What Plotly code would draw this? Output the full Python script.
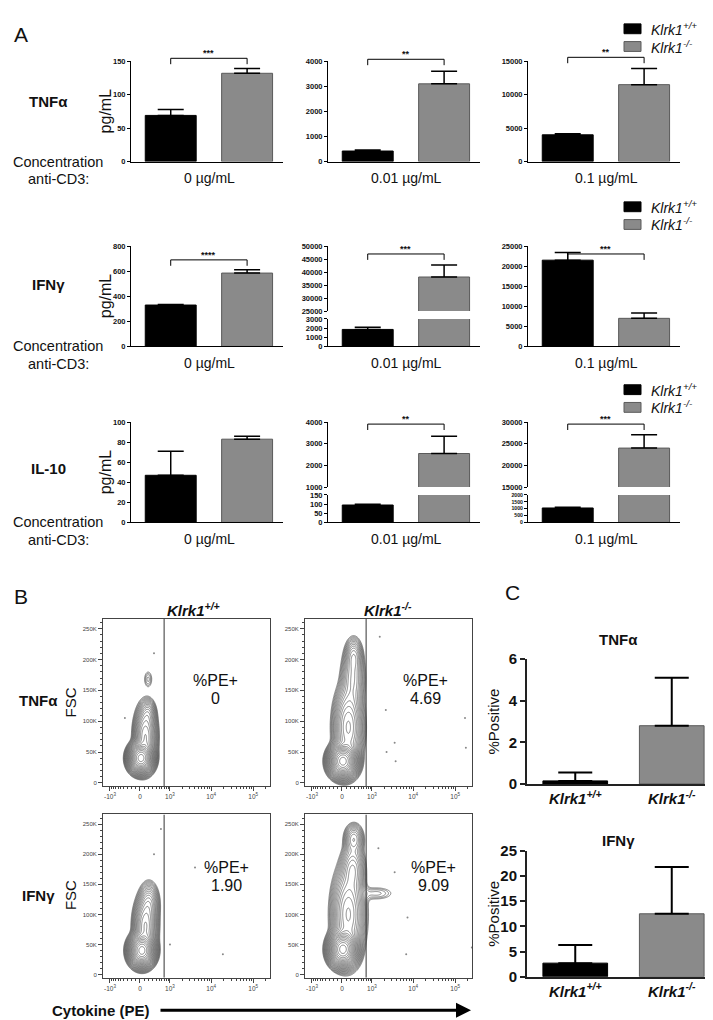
import numpy as np
import plotly.graph_objects as go

W, H = 713, 1020
FONT = "Liberation Sans, Arial, sans-serif"

# ---------------- Panel A data ----------------
groups = ["Klrk1<sup>+/+</sup>", "Klrk1<sup>-/-</sup>"]
conc_labels = ["0 µg/mL", "0.01 µg/mL", "0.1 µg/mL"]
cytokines = ["TNFα", "IFNγ", "IL-10"]

tnf_mean = [[69, 132], [420, 3100], [4000, 11500]]
tnf_sem = [[9, 7], [40, 500], [150, 2400]]
tnf_sig = ["***", "**", "**"]
ifn_mean = [[330, 585], [1850, 38100], [21500, 7000]]
ifn_sem = [[5, 27], [250, 4600], [1900, 1300]]
ifn_sig = ["****", "***", "***"]
il10_mean = [[47, 83], [95, 2550], [1050, 24000]]
il10_sem = [[24, 3], [4, 800], [60, 3100]]
il10_sig = ["", "**", "***"]

tnf_ticks = [[0, 50, 100, 150], [0, 1000, 2000, 3000, 4000], [0, 5000, 10000, 15000]]
ifn_ticks = [[0, 200, 400, 600, 800],
             ([0, 1000, 2000, 3000], [25000, 30000, 35000, 40000, 45000, 50000]),
             [0, 5000, 10000, 15000, 20000, 25000]]
il10_ticks = [[0, 20, 40, 60, 80, 100],
              ([0, 50, 100, 150], [1000, 2000, 3000, 4000]),
              ([0, 500, 1000, 1500, 2000], [15000, 20000, 25000, 30000])]

# ---------------- Panel B data ----------------
pe_tick_vals = [-1000, 0, 1000, 10000, 100000]
pe_tick_text = ["-10<sup>3</sup>", "0", "10<sup>3</sup>", "10<sup>4</sup>", "10<sup>5</sup>"]
fsc_tick_vals = [0, 50, 100, 150, 200, 250]
fsc_tick_text = ["0", "50K", "100K", "150K", "200K", "250K"]
pe_gate = 700
pct_pe = [["0", "4.69"], ["1.90", "9.09"]]
# populations: (centre PE display, centre FSC K, sd display, sd K, weight)
pops_tnf_wt = [(0.05, 40, 0.28, 10, 1.0), (0.30, 75, 0.27, 22, 0.15),
               (0.45, 112, 0.20, 11, 0.03), (0.45, 168, 0.15, 9, 0.006)]
pops_tnf_ko = [(0.05, 35, 0.32, 11, 1.0), (0.35, 90, 0.36, 30, 0.12),
               (0.60, 170, 0.30, 25, 0.04), (0.65, 205, 0.22, 14, 0.03)]
pops_ifn_wt = [(0.10, 40, 0.29, 11, 1.0), (0.30, 80, 0.28, 22, 0.15),
               (0.50, 118, 0.25, 16, 0.05)]
pops_ifn_ko = [(0.05, 42, 0.32, 12, 1.0), (0.35, 100, 0.40, 35, 0.12),
               (0.60, 175, 0.30, 20, 0.05), (0.65, 225, 0.25, 12, 0.04),
               (1.90, 135, 0.60, 7, 0.006)]
# scattered events (PE, FSC K)
dots_tnf_wt = [(-370, 105), (340, 210)]
dots_tnf_ko = [(1570, 237), (2200, 118), (3600, 65), (2300, 50), (3800, 35), (172000, 105), (180000, 57)]
dots_ifn_wt = [(570, 242), (340, 200), (1000, 50), (19000, 34), (4100, 178)]
dots_ifn_ko = [(1450, 210), (3600, 170), (7300, 95), (6800, 34), (250000, 45)]

# ---------------- Panel C data ----------------
c_tnf_mean = [0.15, 2.8]
c_tnf_sem = [0.4, 2.3]
c_ifn_mean = [2.7, 12.5]
c_ifn_sem = [3.6, 9.3]

BAR_COLORS = ["#000000", "#8a8a8a"]
BAR_LINES = ["#000000", "#5a5a5a"]


def px(x):
    return x / W


def py(y):
    return 1 - y / H


fig = go.Figure()
lay = dict(width=W, height=H, margin=dict(l=0, r=0, t=0, b=0),
           paper_bgcolor="white", plot_bgcolor="white",
           font=dict(family=FONT, color="#111"), showlegend=False)
ann = []
shp = []
cnt = {"x": 0, "y": 0}


def new(kind):
    cnt[kind] += 1
    return cnt[kind]


def nm(kind, n):
    return kind if n == 1 else f"{kind}{n}"


def key(kind, n):
    return f"{kind}axis" if n == 1 else f"{kind}axis{n}"


def text(x, y, s, size, bold=False, italic=False, angle=0, xanchor="center", color="#111"):
    if italic:
        s = f"<i>{s}</i>"
    if bold:
        s = f"<b>{s}</b>"
    ann.append(dict(x=px(x), y=py(y), xref="paper", yref="paper", text=s, showarrow=False,
                    font=dict(size=size, family=FONT, color=color), xanchor=xanchor,
                    yanchor="middle", textangle=angle))


def add_bars(xn, yn, means, sems, ew, thick, width):
    for k in range(2):
        fig.add_trace(go.Bar(
            x=[k], y=[means[k]], width=width, textposition="none",
            marker=dict(color=BAR_COLORS[k], line=dict(color=BAR_LINES[k], width=1)),
            error_y=dict(type="data", array=[sems[k]], arrayminus=[0], symmetric=False,
                         color="black", thickness=thick, width=ew),
            xaxis=nm("x", xn), yaxis=nm("y", yn), hoverinfo="skip"))


def a_yaxis(xn, dom, rng, ticks):
    spacing = (dom[1] - dom[0]) / max(len(ticks) - 1, 1)
    size = 7.5 if spacing >= 9 else 5.2
    return dict(domain=[py(dom[1]), py(dom[0])], range=rng, anchor=nm("x", xn),
                tickmode="array", tickvals=ticks, ticktext=[str(t) for t in ticks],
                ticks="outside", ticklen=3, tickwidth=1, tickcolor="black",
                showline=True, linecolor="black", linewidth=1, showgrid=False, zeroline=False,
                tickfont=dict(size=size, family=FONT, color="#111", weight="bold"))


# ---------------- Panel A ----------------
colx = [123, 320, 520]
AXW = 152
XR = [-0.52, 1.47]
rows = [
    dict(mean=tnf_mean, sem=tnf_sem, sig=tnf_sig, ticks=tnf_ticks, top=45, zero=147,
         br=[42, 43, 41], leg=12, lab=86),
    dict(mean=ifn_mean, sem=ifn_sem, sig=ifn_sig, ticks=ifn_ticks, top=233, zero=335,
         br=[247, 241, 241], leg=193, lab=272),
    dict(mean=il10_mean, sem=il10_sem, sig=il10_sig, ticks=il10_ticks, top=412, zero=514,
         br=[414, 414, 414], leg=379, lab=459),
]


def bar_px(ax, k):
    return ax + (k - XR[0]) / (XR[1] - XR[0]) * AXW


for r, row in enumerate(rows):
    for c in range(3):
        ax = colx[c]
        xn = new("x")
        ticks = row["ticks"][c]
        if isinstance(ticks, tuple):
            lo_t, up_t = ticks
            yl = new("y")
            yu = new("y")
            lay[key("y", yl)] = a_yaxis(xn, (row["zero"] - 28, row["zero"]), [0, lo_t[-1]], lo_t)
            lay[key("y", yu)] = a_yaxis(xn, (row["top"], row["top"] + 66), [up_t[0], up_t[-1]], up_t)
            add_bars(xn, yl, row["mean"][c], row["sem"][c], 13, 1.5, 0.667)
            add_bars(xn, yu, row["mean"][c], row["sem"][c], 13, 1.5, 0.667)
            anchor_y = yl
        else:
            yn = new("y")
            lay[key("y", yn)] = a_yaxis(xn, (row["top"], row["zero"]), [0, ticks[-1]], ticks)
            add_bars(xn, yn, row["mean"][c], row["sem"][c], 13, 1.5, 0.667)
            anchor_y = yn
        lay[key("x", xn)] = dict(domain=[px(ax), px(ax + AXW)], range=XR, anchor=nm("y", anchor_y),
                                 showline=True, linecolor="black", linewidth=1, ticks="",
                                 showticklabels=False, showgrid=False, zeroline=False)
        if row["sig"][c]:
            x1, x2 = bar_px(ax, 0), bar_px(ax, 1)
            yb = row["br"][c]
            shp.append(dict(type="path", xref="paper", yref="paper",
                            path=f"M {px(x1)},{py(yb + 6)} L {px(x1)},{py(yb)} L {px(x2)},{py(yb)} L {px(x2)},{py(yb + 6)}",
                            line=dict(color="black", width=1)))
            text((x1 + x2) / 2, yb - 5, row["sig"][c], 9, bold=True)
        text(ax + AXW / 2 + 2, row["zero"] + 17, conc_labels[c], 14)
    text(40, row["lab"], cytokines[r], 15, bold=True)
    text(97, (row["top"] + row["zero"]) / 2, "pg/mL", 16, angle=-90)
    text(50, row["zero"], "Concentration", 14.5)
    text(50, row["zero"] + 18, "anti-CD3:", 14.5)
    for k in range(2):
        yc = row["leg"] + 18 * k
        shp.append(dict(type="rect", xref="paper", yref="paper", x0=px(616), x1=px(633),
                        y0=py(yc + 5), y1=py(yc - 5), fillcolor=BAR_COLORS[k],
                        line=dict(color=BAR_LINES[k], width=1)))
        text(641, yc, groups[k], 14, italic=True, xanchor="left")

text(13, 18, "A", 21)

# ---------------- Panel B ----------------
def biex(v):
    return np.arcsinh(np.asarray(v, dtype=float) / 400.0)


BXR = [-2.03, 7.14]
BYR = [-5, 266]
bx = [(95, 262), (297, 464)]
by = [(612, 782), (811, 977)]
pops = [[pops_tnf_wt, pops_tnf_ko], [pops_ifn_wt, pops_ifn_ko]]
dots = [[dots_tnf_wt, dots_tnf_ko], [dots_ifn_wt, dots_ifn_ko]]
pct_pos = [[(207, 684), (417, 684)], [(218, 874), (425, 874)]]

minor_pe = ([-k * 100 for k in range(1, 10)] + [k * 100 for k in range(1, 10)] +
            [k * 1000 for k in range(2, 10)] + [k * 10000 for k in range(2, 10)] + [200000])

gx = np.linspace(BXR[0], BXR[1], 300)
gy = np.linspace(BYR[0], BYR[1], 360)
GX, GY = np.meshgrid(gx, gy)

for r in range(2):
    for c in range(2):
        xn = new("x")
        yn = new("y")
        lay[key("x", xn)] = dict(
            domain=[px(bx[c][0]), px(bx[c][1])], range=BXR, anchor=nm("y", yn),
            tickmode="array", tickvals=list(biex(pe_tick_vals)), ticktext=pe_tick_text,
            ticks="outside", ticklen=4, tickwidth=1, tickcolor="#444",
            minor=dict(tickvals=list(biex(minor_pe)), ticklen=2, tickcolor="#444", ticks="outside"),
            showline=True, mirror=True, linecolor="#444", linewidth=1, showgrid=False, zeroline=False,
            tickfont=dict(size=6.5, color="#444", family=FONT))
        lay[key("y", yn)] = dict(
            domain=[py(by[r][1]), py(by[r][0])], range=BYR, anchor=nm("x", xn),
            tickmode="array", tickvals=fsc_tick_vals, ticktext=fsc_tick_text,
            ticks="outside", ticklen=4, tickwidth=1, tickcolor="#444",
            minor=dict(dtick=10, ticklen=2, tickcolor="#444", ticks="outside"),
            showline=True, mirror=True, linecolor="#444", linewidth=1, showgrid=False, zeroline=False,
            tickfont=dict(size=6, color="#444", family=FONT))
        dens = np.zeros_like(GX)
        for (cx, cy, sx, sy, w) in pops[r][c]:
            dens += w * np.exp(-0.5 * (((GX - cx) / sx) ** 2 + ((GY - cy) / sy) ** 2))
        z = np.log10(dens + 1e-12)
        z = z - z.max()
        fig.add_trace(go.Contour(
            x=gx, y=gy, z=z, xaxis=nm("x", xn), yaxis=nm("y", yn),
            autocontour=False, contours=dict(coloring="lines", start=-2.6, end=-0.03, size=0.11),
            colorscale=[[0, "#555555"], [1, "#555555"]], showscale=False,
            line=dict(width=0.7), hoverinfo="skip"))
        d = dots[r][c]
        fig.add_trace(go.Scatter(
            x=biex([p[0] for p in d]), y=[p[1] for p in d], mode="markers",
            marker=dict(size=2, color="#888"), xaxis=nm("x", xn), yaxis=nm("y", yn),
            hoverinfo="skip"))
        shp.append(dict(type="line", xref=nm("x", xn), yref=nm("y", yn),
                        x0=float(biex(pe_gate)), x1=float(biex(pe_gate)), y0=BYR[0], y1=BYR[1],
                        line=dict(color="#333", width=1)))
        tx, ty = pct_pos[r][c]
        text(tx, ty - 9, "%PE+", 16)
        text(tx, ty + 9, pct_pe[r][c], 16)

text(13, 589, "B", 21)
text(185, 603, groups[0], 15, bold=True, italic=True)
text(380, 603, groups[1], 15, bold=True, italic=True)
text(30, 695, cytokines[0], 15, bold=True)
text(30, 893, cytokines[1], 15, bold=True)
text(62, 697, "FSC", 15, angle=-90)
text(62, 893, "FSC", 15, angle=-90)
text(93, 1010, "Cytokine (PE)", 15, bold=True)
ann.append(dict(x=px(463), y=py(1010), xref="paper", yref="paper", ax=-312, ay=0,
                axref="pixel", ayref="pixel", showarrow=True, arrowhead=2, arrowsize=1,
                arrowwidth=3, arrowcolor="black", text=""))

# ---------------- Panel C ----------------
c_sets = [(c_tnf_mean, c_tnf_sem, [0, 2, 4, 6], (653, 780), cytokines[0], 633),
          (c_ifn_mean, c_ifn_sem, [0, 5, 10, 15, 20, 25], (848, 976), cytokines[1], 837)]
for mean, sem, ticks, (yt, yz), title, ty in c_sets:
    xn = new("x")
    yn = new("y")
    lay[key("x", xn)] = dict(domain=[px(519), px(712)], range=[-0.5, 1.5], anchor=nm("y", yn),
                             tickmode="array", tickvals=[0, 1],
                             ticktext=[f"<i>{g}</i>" for g in groups], ticks="",
                             showline=True, linecolor="#222", linewidth=2, showgrid=False,
                             zeroline=False,
                             tickfont=dict(size=15, family=FONT, color="#111", weight="bold"))
    lay[key("y", yn)] = dict(domain=[py(yz), py(yt)], range=[0, ticks[-1]], anchor=nm("x", xn),
                             tickmode="array", tickvals=ticks, ticktext=[str(t) for t in ticks],
                             ticks="outside", ticklen=5, tickwidth=2, tickcolor="#222",
                             showline=True, linecolor="#222", linewidth=2, showgrid=False,
                             zeroline=False,
                             tickfont=dict(size=15, family=FONT, color="#111", weight="bold"))
    add_bars(xn, yn, mean, sem, 17, 2, 0.67)
    text(610, ty, title, 15, bold=True)
    text(486, (yt + yz) / 2, "%Positive", 15, angle=-90)

text(504, 585, "C", 21)

lay["annotations"] = ann
lay["shapes"] = shp
fig.update_layout(**lay)
fig.write_html("out.html")
